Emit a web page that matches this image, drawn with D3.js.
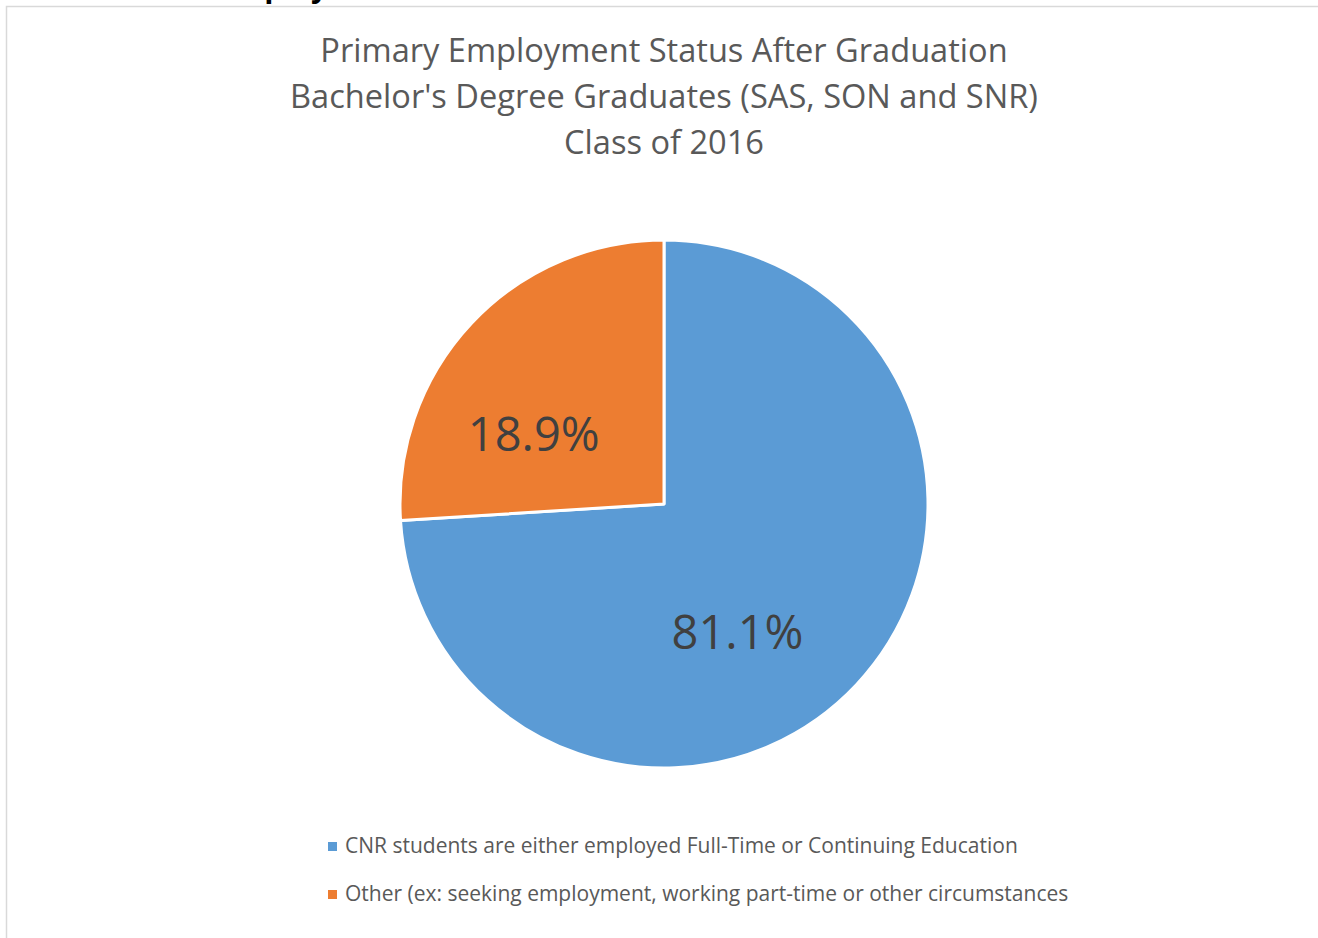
<!DOCTYPE html>
<meta charset="utf-8">
<style>
body { margin: 0; background: #fff; }
text { font-family: "Open Sans", sans-serif; }
.title { fill: #595959; font-size: 32.6px; }
.legend text { fill: #595959; font-size: 21px; }
.slice-label { fill: #404040; font-size: 47px; }
</style>
<svg width="1318" height="938"></svg>
<script src="https://cdn.jsdelivr.net/npm/d3@7"></script>
<script>

// slice sizes as drawn, and the labels printed on them
var categories = ["CNR students are either employed Full-Time or Continuing Education",
                  "Other (ex: seeking employment, working part-time or other circumstances"];
var values = [74.0, 26.0];
var labels = ["81.1%", "18.9%"];
var colors = ["#5b9bd5", "#ed7d31"];
var titleLines = ["Primary Employment Status After Graduation",
                  "Bachelor's Degree Graduates (SAS, SON and SNR)",
                  "Class of 2016"];

var svg = d3.select("svg"),
    width = +svg.attr("width"),
    height = +svg.attr("height");

// heading from the page, cut off above the chart
svg.append("text")
    .attr("x", 218)
    .attr("y", -3)
    .attr("font-weight", "bold")
    .attr("font-size", 30)
    .attr("fill", "#000")
    .text("Employment Status");

// chart area border
svg.append("path")
    .attr("d", "M6.5,938 L6.5,6.5 L1318,6.5")
    .attr("fill", "none")
    .attr("stroke", "#d9d9d9")
    .attr("stroke-width", 1.5);

svg.append("g")
    .attr("class", "title")
  .selectAll("text")
    .data(titleLines)
    .enter().append("text")
    .attr("x", 664)
    .attr("y", function(d, i) { return 62 + i * 46; })
    .attr("text-anchor", "middle")
    .text(function(d) { return d; });

var cx = 664, cy = 504, r = 264;

var pie = d3.pie().sort(null).value(function(d) { return d; });
var arc = d3.arc().innerRadius(0).outerRadius(r);
var arcs = pie(values);

var g = svg.append("g").attr("transform", "translate(" + cx + "," + cy + ")");

g.selectAll("path")
    .data(arcs)
    .enter().append("path")
    .attr("d", arc)
    .attr("fill", function(d, i) { return colors[i]; })
    .attr("stroke", "#fff")
    .attr("stroke-width", 3)
    .attr("stroke-linejoin", "round");

// labels sit off the slice middles, as in the original
var labelShift = [17, -15];
var labelR = r * 0.56;
g.selectAll(".slice-label")
    .data(arcs)
    .enter().append("text")
    .attr("class", "slice-label")
    .attr("transform", function(d, i) {
        var a = (d.startAngle + d.endAngle) / 2 + labelShift[i] * Math.PI / 180;
        return "translate(" + (labelR * Math.sin(a)) + "," + (-labelR * Math.cos(a)) + ")";
    })
    .attr("text-anchor", "middle")
    .attr("dy", "0.35em")
    .text(function(d, i) { return labels[i]; });

var legend = svg.append("g")
    .attr("class", "legend")
  .selectAll("g")
    .data(categories)
    .enter().append("g")
    .attr("transform", function(d, i) { return "translate(328," + (846 + i * 48) + ")"; });

legend.append("rect")
    .attr("x", 0)
    .attr("y", -4)
    .attr("width", 9)
    .attr("height", 9)
    .attr("fill", function(d, i) { return colors[i]; });

legend.append("text")
    .attr("x", 17)
    .attr("dy", "0.35em")
    .text(function(d) { return d; });

</script>
